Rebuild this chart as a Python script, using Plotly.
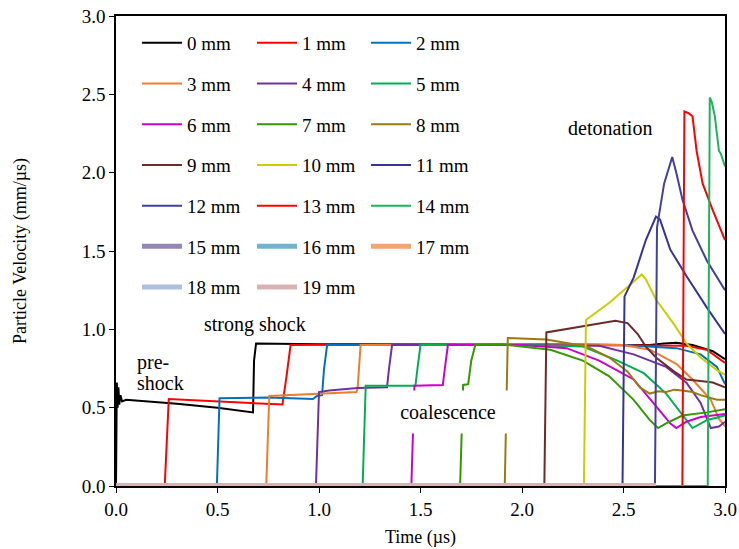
import plotly.graph_objects as go

# ---- data (time in µs, particle velocity in mm/µs) ----
labels = [f"{i} mm" for i in range(20)]

t0 = [0, 0.004, 0.008, 0.012, 0.016, 0.022, 0.03, 0.05, 0.3, 0.5, 0.675, 0.68, 0.69, 1.0, 1.5, 2.0, 2.5, 2.63, 2.7, 2.76, 2.84, 2.94, 3.0]
v0 = [0, 0.66, 0.50, 0.63, 0.52, 0.58, 0.54, 0.55, 0.525, 0.50, 0.47, 0.80, 0.91, 0.905, 0.905, 0.905, 0.90, 0.90, 0.91, 0.915, 0.90, 0.86, 0.81]

t1 = [0, 0.24, 0.26, 0.5, 0.82, 0.84, 0.86, 1.5, 2.5, 2.71, 2.81, 2.91, 3.0]
v1 = [0, 0, 0.555, 0.54, 0.52, 0.70, 0.90, 0.905, 0.90, 0.90, 0.895, 0.87, 0.785]

t2 = [0, 0.497, 0.51, 0.75, 0.97, 0.99, 1.015, 1.025, 1.04, 2.0, 2.5, 2.76, 2.88, 2.96, 3.0]
v2 = [0, 0, 0.56, 0.565, 0.555, 0.575, 0.58, 0.75, 0.90, 0.905, 0.90, 0.88, 0.84, 0.76, 0.65]

t3 = [0, 0.74, 0.755, 1.0, 1.185, 1.19, 1.205, 2.0, 2.5, 2.63, 2.76, 2.84, 2.93, 2.97, 3.0]
v3 = [0, 0, 0.575, 0.59, 0.60, 0.62, 0.90, 0.905, 0.90, 0.87, 0.78, 0.68, 0.55, 0.43, 0.38]

t4 = [0, 0.985, 1.0, 1.05, 1.19, 1.335, 1.345, 1.36, 2.0, 2.38, 2.55, 2.71, 2.81, 2.88, 2.93, 2.97, 3.0]
v4 = [0, 0, 0.60, 0.61, 0.625, 0.63, 0.75, 0.90, 0.90, 0.895, 0.84, 0.76, 0.66, 0.53, 0.37, 0.38, 0.41]

t5 = [0, 1.215, 1.23, 1.475, 1.485, 1.50, 2.0, 2.30, 2.47, 2.60, 2.71, 2.79, 2.84, 2.91, 3.0]
v5 = [0, 0, 0.64, 0.64, 0.75, 0.90, 0.90, 0.89, 0.80, 0.72, 0.59, 0.45, 0.37, 0.42, 0.45]

t6 = [0, 1.455, 1.47, 1.61, 1.62, 1.635, 2.0, 2.22, 2.38, 2.55, 2.66, 2.73, 2.76, 2.81, 2.88, 3.0]
v6 = [0, 0, 0.64, 0.645, 0.75, 0.90, 0.90, 0.88, 0.80, 0.68, 0.51, 0.40, 0.37, 0.41, 0.44, 0.46]

t7 = [0, 1.695, 1.71, 1.735, 1.75, 1.77, 1.9, 2.14, 2.30, 2.43, 2.55, 2.63, 2.67, 2.71, 2.79, 2.91, 3.0]
v7 = [0, 0, 0.645, 0.65, 0.80, 0.90, 0.905, 0.87, 0.80, 0.70, 0.55, 0.42, 0.37, 0.40, 0.45, 0.47, 0.49]

t8 = [0, 1.915, 1.93, 2.12, 2.32, 2.43, 2.52, 2.58, 2.63, 2.67, 2.71, 2.75, 2.79, 2.84, 2.88, 2.96, 3.0]
v8 = [0, 0, 0.945, 0.935, 0.89, 0.82, 0.73, 0.63, 0.59, 0.605, 0.60, 0.615, 0.61, 0.60, 0.58, 0.55, 0.55]

t9 = [0, 2.11, 2.12, 2.25, 2.38, 2.46, 2.52, 2.57, 2.61, 2.66, 2.75, 2.81, 2.88, 2.94, 3.0]
v9 = [0, 0, 0.98, 1.01, 1.04, 1.055, 1.04, 0.97, 0.89, 0.82, 0.73, 0.68, 0.67, 0.66, 0.63]

t10 = [0, 2.305, 2.315, 2.43, 2.52, 2.59, 2.61, 2.66, 2.75, 2.81, 2.88, 2.96, 3.0]
v10 = [0, 0, 1.06, 1.17, 1.27, 1.35, 1.32, 1.19, 1.03, 0.91, 0.82, 0.74, 0.71]

t11 = [0, 2.495, 2.505, 2.55, 2.61, 2.66, 2.68, 2.73, 2.81, 2.91, 3.0]
v11 = [0, 0, 1.21, 1.33, 1.57, 1.72, 1.70, 1.51, 1.34, 1.14, 0.97]

t12 = [0, 2.655, 2.665, 2.70, 2.74, 2.76, 2.79, 2.84, 2.91, 3.0]
v12 = [0, 0, 1.65, 1.93, 2.10, 2.00, 1.83, 1.63, 1.44, 1.25]

t13 = [0, 2.79, 2.80, 2.82, 2.84, 2.86, 2.89, 2.94, 3.0]
v13 = [0, 0, 2.39, 2.38, 2.36, 2.14, 1.93, 1.76, 1.57]

t14 = [0, 2.915, 2.925, 2.935, 2.95, 2.97, 2.98, 3.0]
v14 = [0, 0, 2.48, 2.45, 2.36, 2.14, 2.12, 2.04]

t15 = [0, 2.66]; v15 = [0, 0]
t16 = [0, 2.66]; v16 = [0, 0]
t17 = [0, 2.66]; v17 = [0, 0]
t18 = [0, 2.66]; v18 = [0, 0]
t19 = [0, 2.66]; v19 = [0, 0]

times = [t0, t1, t2, t3, t4, t5, t6, t7, t8, t9, t10, t11, t12, t13, t14, t15, t16, t17, t18, t19]
vels = [v0, v1, v2, v3, v4, v5, v6, v7, v8, v9, v10, v11, v12, v13, v14, v15, v16, v17, v18, v19]

colors = ["#000000", "#ff0000", "#0070c0", "#ed7d31", "#7030a0", "#00b050",
          "#cc00cc", "#339900", "#9a7b0e", "#6e2b2b", "#cccc00", "#333399",
          "#40409f", "#ff0000", "#1fb35b", "#9585b8", "#72b3cf", "#f5a36f",
          "#b0c0dc", "#d9b3b3"]
widths = [2] * 15 + [5] * 5

xticks = [0.0, 0.5, 1.0, 1.5, 2.0, 2.5, 3.0]
yticks = [0.0, 0.5, 1.0, 1.5, 2.0, 2.5, 3.0]

FONT = "Liberation Serif, Times New Roman, serif"

fig = go.Figure()
legend_names = ["legend", "legend2", "legend3"]
for i in range(20):
    fig.add_trace(go.Scatter(
        x=times[i], y=vels[i], mode="lines", name=labels[i],
        line=dict(color=colors[i], width=widths[i]),
        legend=legend_names[i % 3], legendgroup=labels[i],
    ))

leg_common = dict(font=dict(family=FONT, size=19, color="black"),
                  bgcolor="rgba(0,0,0,0)", borderwidth=0,
                  itemwidth=40, tracegroupgap=13,
                  xanchor="left", yanchor="top", y=0.983, traceorder="grouped")
fig.update_layout(
    width=739, height=549,
    margin=dict(l=116, r=14, t=16, b=63, autoexpand=False),
    paper_bgcolor="white", plot_bgcolor="white",
    font=dict(family=FONT, size=19, color="black"),
    showlegend=True,
    legend=dict(x=0.0345, **leg_common),
    legend2=dict(x=0.2233, **leg_common),
    legend3=dict(x=0.4105, **leg_common),
    xaxis=dict(range=[0, 3], tickvals=xticks, ticktext=[f"{v:.1f}" for v in xticks],
               showgrid=False, zeroline=False, showline=True, linecolor="black",
               linewidth=1.5, mirror=True, ticks="outside", ticklen=5, tickcolor="black",
               layer="below traces", automargin=False,
               title=dict(text="Time (µs)", font=dict(size=18), standoff=12)),
    yaxis=dict(range=[0, 3], tickvals=yticks, ticktext=[f"{v:.1f}" for v in yticks],
               showgrid=False, zeroline=False, showline=True, linecolor="black",
               linewidth=1.5, mirror=True, ticks="outside", ticklen=5, tickcolor="black",
               layer="below traces", automargin=False,
               title=dict(text="Particle Velocity (mm/µs)", font=dict(size=18), standoff=50)),
)

ann_font = dict(family=FONT, size=20, color="black")
fig.add_annotation(x=0.685, y=1.03, text="strong shock", showarrow=False, font=ann_font)
fig.add_annotation(x=0.094, y=0.79, text="pre-", showarrow=False, font=ann_font, xanchor="left")
fig.add_annotation(x=0.094, y=0.657, text="shock", showarrow=False, font=ann_font, xanchor="left")
fig.add_annotation(x=1.635, y=0.47, text="coalescence", showarrow=False, font=ann_font,
                   bgcolor="white", width=124, height=40)
fig.add_annotation(x=2.433, y=2.285, text="detonation", showarrow=False, font=ann_font)

fig.write_html("out.html")
